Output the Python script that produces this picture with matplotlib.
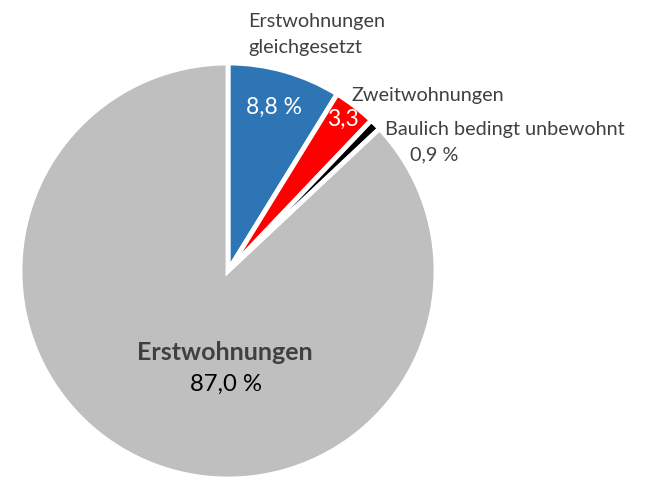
import matplotlib
matplotlib.use("Agg")
from matplotlib import pyplot as plt

categories = ["Erstwohnungen gleichgesetzt", "Zweitwohnungen",
              "Baulich bedingt unbewohnt", "Erstwohnungen"]
shares = [8.8, 3.3, 0.9, 87.0]
colors = ["#2E75B6", "#FF0000", "#000000", "#BFBFBF"]

plt.rcParams['font.family'] = ['Lato', 'DejaVu Sans']

fig = plt.figure(figsize=(6.5, 5), dpi=100)
ax = fig.add_axes([0, 0, 1, 1])

ax.pie(shares, colors=colors, startangle=90, counterclock=False,
       center=(228, 229), radius=208,
       wedgeprops=dict(edgecolor="white", linewidth=3.5))

ax.set_xlim(0, 650)
ax.set_ylim(0, 500)
ax.set_aspect("equal")
ax.axis("off")

fs = 14.3
ax.text(248, 478, "Erstwohnungen", fontsize=fs, color="#404040", va="center")
ax.text(248, 453, "gleichgesetzt", fontsize=fs, color="#404040", va="center")
ax.text(274, 393, "8,8 %", fontsize=16.5, color="white", va="center", ha="center")
ax.text(343, 381, "3,3", fontsize=16.5, color="white", va="center", ha="center")
ax.text(352, 404, "Zweitwohnungen", fontsize=fs, color="#404040", va="center")
ax.text(385, 370, "Baulich bedingt unbewohnt", fontsize=fs, color="#404040", va="center")
ax.text(410, 345, "0,9 %", fontsize=fs, color="#404040", va="center")
ax.text(225, 147, "Erstwohnungen", fontsize=18, color="#404040", va="center",
        ha="center", fontweight="bold")
ax.text(226, 116, "87,0 %", fontsize=17.2, color="black", va="center", ha="center")

fig.savefig("out.png", dpi=100)
